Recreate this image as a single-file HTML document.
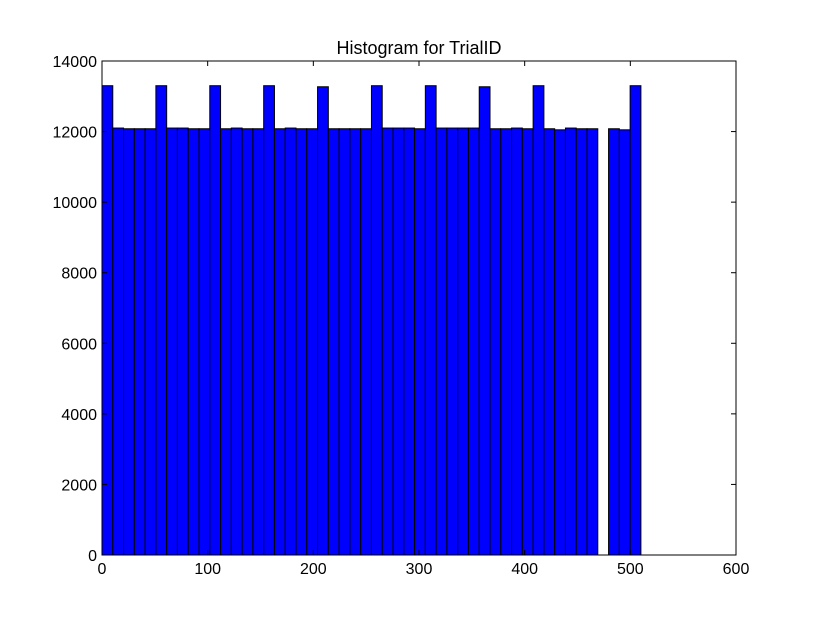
<!DOCTYPE html>
<html><head><meta charset="utf-8"><style>
body{margin:0;background:#fff;}
svg{font-family:"Liberation Sans","DejaVu Sans",sans-serif;}
</style></head><body>
<svg id="chart" width="817" height="617" viewBox="0 0 817 617">
<rect width="817" height="617" fill="#fff"/>
<text x="419" y="54" font-size="18" text-anchor="middle">Histogram for TrialID</text>
<g id="bars"></g>
<g id="axes"></g>
</svg>
<script>
const binStart = 0;
const binWidth = 10.2;
const counts = [13300,12100,12080,12080,12080,13300,12100,12100,12080,12080,
13300,12080,12100,12080,12080,13300,12080,12100,12080,12080,
13270,12080,12080,12080,12080,13300,12100,12100,12100,12080,
13300,12100,12100,12100,12100,13270,12080,12080,12100,12080,
13300,12080,12050,12100,12080,12080,0,12080,12050,13300];
const xTicks = [0,100,200,300,400,500,600];
const yTicks = [0,2000,4000,6000,8000,10000,12000,14000];
const L=102,R=736,T=61,B=555,xMax=600,yMax=14000;
const X=v=>L+(v/xMax)*(R-L);
const Y=v=>B-(v/yMax)*(B-T);
const ns="http://www.w3.org/2000/svg";
const bars=document.getElementById('bars');
counts.forEach((c,i)=>{
  const x0=X(binStart+i*binWidth),x1=X(binStart+(i+1)*binWidth);
  const r=document.createElementNS(ns,'rect');
  r.setAttribute('x',x0);r.setAttribute('y',Y(c));
  r.setAttribute('width',x1-x0);r.setAttribute('height',B-Y(c));
  r.setAttribute('fill','#0000ff');r.setAttribute('stroke','#000');r.setAttribute('stroke-width','1');
  
  
  bars.appendChild(r);
});
const ax=document.getElementById('axes');
let h='<rect x="'+L+'" y="'+T+'" width="'+(R-L)+'" height="'+(B-T)+'" fill="none" stroke="#000" stroke-width="1"/>';
xTicks.forEach(t=>{const x=X(t);
 h+='<line x1="'+x+'" y1="'+B+'" x2="'+x+'" y2="'+(B-5)+'" stroke="#000"/><line x1="'+x+'" y1="'+T+'" x2="'+x+'" y2="'+(T+5)+'" stroke="#000"/>';
 h+='<text x="'+x+'" y="'+(B+19)+'" font-size="16" text-anchor="middle">'+t+'</text>';});
yTicks.forEach(t=>{const y=Y(t);
 h+='<line x1="'+L+'" y1="'+y+'" x2="'+(L+5)+'" y2="'+y+'" stroke="#000"/><line x1="'+R+'" y1="'+y+'" x2="'+(R-5)+'" y2="'+y+'" stroke="#000"/>';
 h+='<text x="'+(L-5)+'" y="'+(y+6)+'" font-size="16" text-anchor="end">'+t+'</text>';});
ax.innerHTML=h;
</script>
</body></html>
